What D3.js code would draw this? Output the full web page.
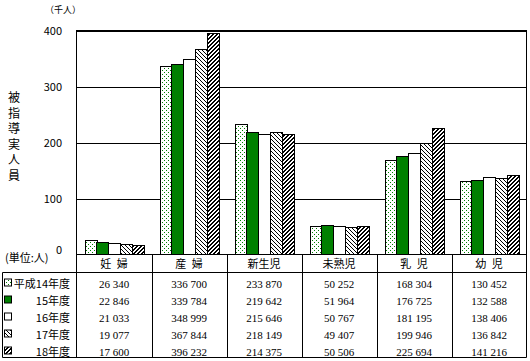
<!DOCTYPE html>
<html><head><meta charset="utf-8">
<script src="https://cdn.jsdelivr.net/npm/d3@7/dist/d3.min.js"></script>
<style>
body{margin:0;background:#fff;}
svg{display:block;}
text{font-family:"Liberation Serif","Noto Sans CJK JP",serif;fill:#000;}
.jp{font-family:"Noto Sans CJK JP",sans-serif;}
</style></head>
<body>
<svg id="c" width="530" height="361"></svg>
<script>
const categories = ["妊 婦","産 婦","新生児","未熟児","乳 児","幼 児"];
const years = ["平成14年度","15年度","16年度","17年度","18年度"];
const v14 = [26340,336700,233870,50252,168304,130452];
const v15 = [22846,339784,219642,51964,176725,132588];
const v16 = [21033,348999,215646,50767,181195,138406];
const v17 = [19077,367844,218149,49407,199946,136842];
const v18 = [17600,396232,214375,50506,225694,141216];
const series = [v14,v15,v16,v17,v18];
const yTicks = [0,100,200,300,400];

const svg = d3.select("#c");
const defs = svg.append("defs");
function pixPattern(id, size, pix, color){
  const p = defs.append("pattern").attr("id",id).attr("patternUnits","userSpaceOnUse")
    .attr("width",size).attr("height",size);
  p.append("rect").attr("width",size).attr("height",size).attr("fill","#fff");
  pix.forEach(([px,py])=>p.append("rect").attr("x",px).attr("y",py).attr("width",1).attr("height",1)
    .attr("fill",color).attr("shape-rendering","crispEdges"));
}
pixPattern("pdot",4,[[0,0],[2,2]],"#008000");
pixPattern("pbk",4,[[0,0],[1,1],[2,2],[3,3]],"#000");
pixPattern("pfw",4,[[2,0],[3,0],[1,1],[2,1],[0,2],[1,2],[3,3],[0,3]],"#000");
const fills = ["url(#pdot)","#008000","#fff","url(#pbk)","url(#pfw)"];

const L=76.5, R=526.5, T=30.5, B=254.5;
const y = d3.scaleLinear().domain([0,400]).range([B,T]);
const x = d3.scaleBand().domain(categories).range([L,R]);
const xi = d3.scaleBand().domain(d3.range(5)).range([8,67]);

// gridlines
svg.append("g").selectAll("line").data(yTicks.filter(t=>t>0)).join("line")
  .attr("x1",L).attr("x2",R).attr("y1",d=>Math.round(y(d))+0.5).attr("y2",d=>Math.round(y(d))+0.5)
  .attr("stroke","#000");

// bars
series.forEach((s,si)=>{
  svg.append("g").selectAll("rect").data(s).join("rect")
    .attr("x",(d,i)=>Math.round(x(categories[i])+xi(si))+0.5)
    .attr("width",Math.round(xi.bandwidth()))
    .attr("y",d=>Math.round(y(d/1000))+0.5)
    .attr("height",d=>B-(Math.round(y(d/1000))+0.5))
    .attr("fill",fills[si]).attr("stroke","#000");
});

// frame
svg.append("rect").attr("x",L).attr("y",T).attr("width",R-L).attr("height",B-T).attr("fill","none").attr("stroke","#000");

// y axis labels
const yAxis = d3.axisLeft(y).tickValues(yTicks).tickSize(0).tickPadding(0).tickFormat(d=>d);
const ga = svg.append("g").attr("transform","translate(62,0)").call(yAxis);
ga.select(".domain").remove();
ga.selectAll("text").attr("class","jp").style("font-family","'Noto Sans CJK JP',sans-serif").style("font-size","11px").attr("fill","#000");
ga.selectAll(".tick").filter(d=>d===0).select("text").attr("dy","-0.1em");

svg.append("text").attr("class","jp").attr("x",63).attr("y",13).attr("text-anchor","middle")
  .style("font-size","9px").text("（千人）");
svg.append("text").attr("class","jp").attr("x",5).attr("y",262).style("font-size","11px").text("(単位:人)");

// vertical y label
const ylab = "被指導実人員".split("");
svg.append("g").selectAll("text").data(ylab).join("text").attr("class","jp")
  .attr("x",14).attr("y",(d,i)=>102+i*15.5).attr("text-anchor","middle").style("font-size","12px").text(d=>d);

// table
const tb = 357.5, hb = 272.5, rowH = 17;
svg.append("line").attr("x1",L).attr("x2",L).attr("y1",B).attr("y2",tb).attr("stroke","#000");
svg.append("line").attr("x1",R).attr("x2",R).attr("y1",B).attr("y2",tb).attr("stroke","#000");
svg.append("line").attr("x1",2.5).attr("x2",R).attr("y1",hb).attr("y2",hb).attr("stroke","#000");
svg.append("line").attr("x1",2.5).attr("x2",R).attr("y1",tb).attr("y2",tb).attr("stroke","#000");
svg.append("line").attr("x1",2.5).attr("x2",2.5).attr("y1",hb).attr("y2",tb).attr("stroke","#000");
svg.append("g").selectAll("line").data(categories.slice(1)).join("line")
  .attr("x1",d=>Math.round(x(d))+0.5).attr("x2",d=>Math.round(x(d))+0.5).attr("y1",B).attr("y2",tb).attr("stroke","#000");

svg.append("g").selectAll("text").data(categories).join("text").attr("class","jp")
  .attr("x",d=>x(d)+x.bandwidth()/2).attr("y",268).attr("text-anchor","middle").style("font-size","11px")
  .attr("xml:space","preserve").text(d=>d.replace(" ","\u2002"));

const fmt = v => { const s = String(v); return s.length>3 ? s.slice(0,-3)+" "+s.slice(-3) : s; };
series.forEach((s,si)=>{
  const ry = hb + rowH*si + 15;
  svg.append("g").selectAll("text").data(s).join("text")
    .attr("x",(d,i)=>x(categories[i])+x.bandwidth()/2).attr("y",ry).attr("text-anchor","middle")
    .style("font-size","11px").text(d=>fmt(d));
  svg.append("rect").attr("x",4.5).attr("y",ry-8.5).attr("width",7).attr("height",7)
    .attr("fill",fills[si]).attr("stroke","#000");
  svg.append("text").attr("class","jp").attr("x",70).attr("y",ry).attr("text-anchor","end")
    .style("font-size","11px").text(years[si]);
});
</script>
</body></html>
